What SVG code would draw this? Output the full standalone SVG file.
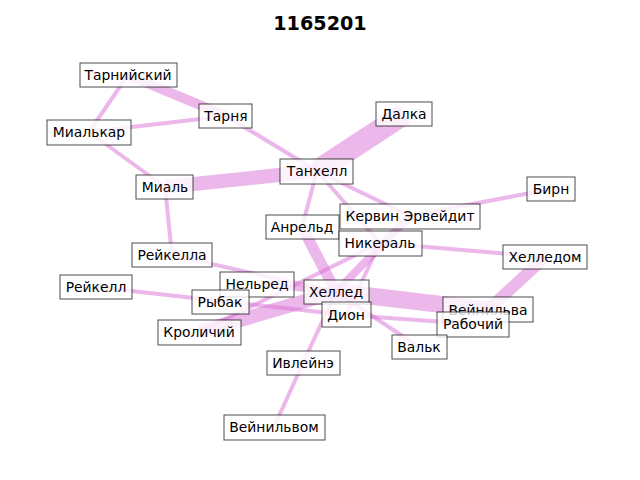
<svg xmlns="http://www.w3.org/2000/svg" width="640" height="480" viewBox="0 0 640 480">
<style>
.e{stroke:#da70d6;stroke-opacity:0.5;stroke-linecap:butt;fill:none}
.b{fill:#fff;fill-opacity:0.8;stroke:#000;stroke-opacity:0.7;stroke-width:1}
.t{font-family:"DejaVu Sans",sans-serif;font-size:13.9px;fill:#000;text-anchor:middle}
.title{font-family:"DejaVu Sans",sans-serif;font-size:19.2px;font-weight:bold;fill:#000;text-anchor:middle}
</style>
<rect width="640" height="480" fill="#fff"/>
<text class="title" x="320" y="30">1165201</text>
<g id="edges">
<line class="e" x1="128" y1="75" x2="226" y2="116" stroke-width="10"/>
<line class="e" x1="128" y1="75" x2="89" y2="132" stroke-width="4"/>
<line class="e" x1="89" y1="132" x2="226" y2="116" stroke-width="4"/>
<line class="e" x1="89" y1="132" x2="165" y2="187" stroke-width="4"/>
<line class="e" x1="226" y1="116" x2="317" y2="171" stroke-width="4"/>
<line class="e" x1="165" y1="187" x2="317" y2="171" stroke-width="14"/>
<line class="e" x1="317" y1="171" x2="404" y2="114" stroke-width="22"/>
<line class="e" x1="165" y1="187" x2="172" y2="255" stroke-width="4"/>
<line class="e" x1="317" y1="171" x2="302" y2="227" stroke-width="4"/>
<line class="e" x1="317" y1="171" x2="380" y2="243" stroke-width="4"/>
<line class="e" x1="317" y1="171" x2="410" y2="216" stroke-width="4"/>
<line class="e" x1="410" y1="216" x2="551" y2="189" stroke-width="4"/>
<line class="e" x1="380" y1="243" x2="545" y2="257" stroke-width="4"/>
<line class="e" x1="545" y1="257" x2="488" y2="310" stroke-width="12"/>
<line class="e" x1="336" y1="292" x2="488" y2="310" stroke-width="17"/>
<line class="e" x1="302" y1="227" x2="336" y2="292" stroke-width="11"/>
<line class="e" x1="410" y1="216" x2="336" y2="292" stroke-width="8"/>
<line class="e" x1="380" y1="243" x2="346" y2="315" stroke-width="4"/>
<line class="e" x1="199" y1="332" x2="336" y2="292" stroke-width="14"/>
<line class="e" x1="199" y1="332" x2="380" y2="243" stroke-width="4"/>
<line class="e" x1="172" y1="255" x2="336" y2="292" stroke-width="4"/>
<line class="e" x1="257" y1="284" x2="336" y2="292" stroke-width="6"/>
<line class="e" x1="96" y1="287" x2="346" y2="315" stroke-width="4"/>
<line class="e" x1="346" y1="315" x2="473" y2="324" stroke-width="4"/>
<line class="e" x1="336" y1="292" x2="419" y2="347" stroke-width="4"/>
<line class="e" x1="274" y1="427" x2="303" y2="363" stroke-width="4"/>
<line class="e" x1="303" y1="363" x2="336" y2="292" stroke-width="4"/>
</g>
<g id="n-tarniyskiy"><rect class="b" x="80" y="63" width="97" height="24"/><text class="t" x="128" y="80">Тарнийский</text></g>
<g id="n-tarnya"><rect class="b" x="199" y="104" width="53" height="24"/><text class="t" x="226" y="121">Тарня</text></g>
<g id="n-mialkar"><rect class="b" x="47" y="120" width="84" height="25"/><text class="t" x="89" y="137">Миалькар</text></g>
<g id="n-mial"><rect class="b" x="136" y="175" width="57" height="24"/><text class="t" x="165" y="192">Миаль</text></g>
<g id="n-tanhell"><rect class="b" x="280" y="159" width="73" height="25"/><text class="t" x="317" y="176">Танхелл</text></g>
<g id="n-dalka"><rect class="b" x="376" y="102" width="56" height="24"/><text class="t" x="404" y="119">Далка</text></g>
<g id="n-birn"><rect class="b" x="527" y="177" width="48" height="24"/><text class="t" x="551" y="194">Бирн</text></g>
<g id="n-anreld"><rect class="b" x="266" y="215" width="73" height="24"/><text class="t" x="302" y="232">Анрельд</text></g>
<g id="n-kervin"><rect class="b" x="340" y="204" width="140" height="25"/><text class="t" x="410" y="221">Кервин Эрвейдит</text></g>
<g id="n-nikeral"><rect class="b" x="339" y="231" width="83" height="25"/><text class="t" x="380" y="248">Никераль</text></g>
<g id="n-helledom"><rect class="b" x="503" y="245" width="84" height="24"/><text class="t" x="545" y="262">Хелледом</text></g>
<g id="n-reykella"><rect class="b" x="132" y="243" width="80" height="24"/><text class="t" x="172" y="260">Рейкелла</text></g>
<g id="n-reykell"><rect class="b" x="60" y="275" width="72" height="24"/><text class="t" x="96" y="292">Рейкелл</text></g>
<g id="n-nelred"><rect class="b" x="220" y="272" width="74" height="25"/><text class="t" x="257" y="289">Нельред</text></g>
<g id="n-rybak"><rect class="b" x="192" y="290" width="57" height="24"/><text class="t" x="220" y="307">Рыбак</text></g>
<g id="n-helled"><rect class="b" x="304" y="280" width="65" height="24"/><text class="t" x="336" y="297">Хеллед</text></g>
<g id="n-dion"><rect class="b" x="322" y="302" width="49" height="25"/><text class="t" x="346" y="320">Дион</text></g>
<g id="n-krolichiy"><rect class="b" x="158" y="320" width="83" height="25"/><text class="t" x="199" y="337">Кроличий</text></g>
<g id="n-veynilva"><rect class="b" x="443" y="297" width="90" height="25"/><text class="t" x="488" y="315">Вейнильва</text></g>
<g id="n-rabochiy"><rect class="b" x="437" y="312" width="72" height="25"/><text class="t" x="473" y="329">Рабочий</text></g>
<g id="n-valk"><rect class="b" x="392" y="335" width="55" height="24"/><text class="t" x="419" y="352">Вальк</text></g>
<g id="n-ivleyne"><rect class="b" x="267" y="351" width="73" height="24"/><text class="t" x="303" y="368">Ивлейнэ</text></g>
<g id="n-veynilvom"><rect class="b" x="224" y="415" width="101" height="25"/><text class="t" x="274" y="432">Вейнильвом</text></g>
</svg>
